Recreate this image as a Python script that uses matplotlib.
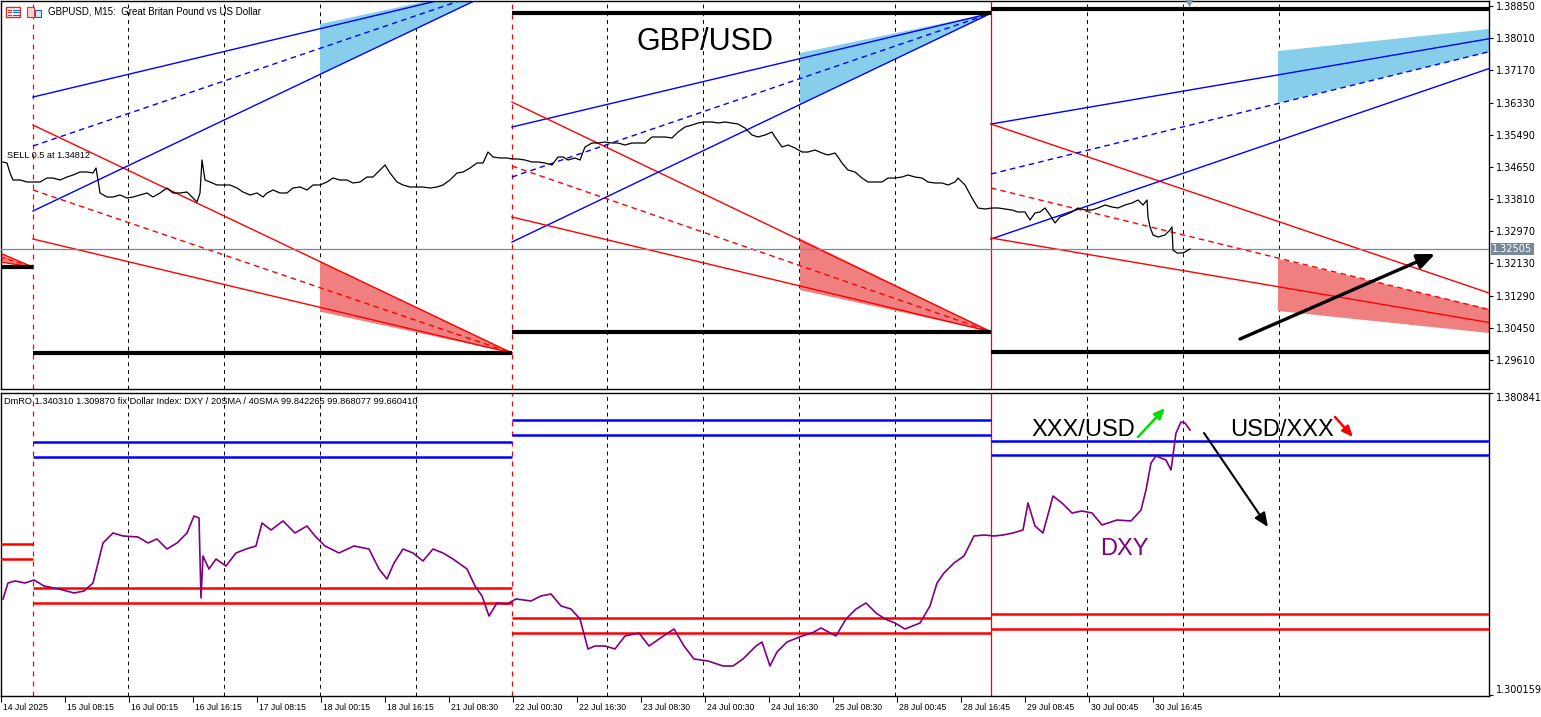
import matplotlib
matplotlib.use('Agg')
import matplotlib.pyplot as plt
import matplotlib.transforms as mtransforms
from matplotlib.patches import Rectangle

# ---------------- data ----------------
# GBPUSD M15 closes (x = bar position)
gbp_x = [3,7,10,13,20,27,33,40,47,53,60,67,73,80,87,93,96,98,100,107,113,120,127,133,140,147,153,160,167,173,
         180,187,193,197,200,202,205,210,217,223,230,237,243,250,257,263,267,273,280,287,293,300,307,313,320,327,
         333,340,347,353,360,367,373,380,385,390,397,403,410,417,423,430,437,443,450,457,463,470,477,483,488,493,
         500,507,512,518,525,532,538,545,552,558,563,568,575,580,585,592,598,605,612,618,625,632,638,645,652,658,
         665,672,678,685,692,698,705,712,718,725,732,738,745,752,758,765,772,775,782,788,795,802,808,815,822,828,
         835,838,842,848,855,862,868,875,882,888,895,902,908,915,922,928,935,942,948,955,958,965,972,978,985,992,
         998,1005,1012,1018,1025,1030,1035,1040,1045,1050,1055,1060,1065,1072,1078,1085,1092,1098,1105,1112,1118,
         1125,1132,1138,1143,1147,1148,1150,1153,1158,1165,1170,1172,1173,1177,1182,1185,1190]
gbp_close = [1.34777,1.34751,1.34490,1.34307,1.34307,1.34255,1.34255,1.34255,1.34359,1.34359,1.34307,1.34385,
             1.34438,1.34516,1.34516,1.34490,1.34620,1.34307,1.33968,1.33863,1.33863,1.33916,1.33837,1.33863,
             1.33916,1.33968,1.33863,1.33968,1.34098,1.33968,1.33968,1.33994,1.33837,1.33733,1.33968,1.34829,
             1.34307,1.34255,1.34177,1.34177,1.34177,1.34098,1.33994,1.33916,1.33968,1.33863,1.33968,1.34046,
             1.33968,1.33968,1.34098,1.34124,1.34046,1.34177,1.34177,1.34255,1.34359,1.34307,1.34307,1.34229,
             1.34255,1.34385,1.34385,1.34568,1.34699,1.34490,1.34255,1.34177,1.34124,1.34124,1.34124,1.34098,
             1.34124,1.34177,1.34307,1.34490,1.34516,1.34620,1.34751,1.34751,1.35038,1.34908,1.34882,1.34882,
             1.34856,1.34856,1.34829,1.34777,1.34777,1.34751,1.34699,1.34908,1.34908,1.34829,1.34882,1.34829,
             1.35169,1.35273,1.35273,1.35299,1.35273,1.35273,1.35221,1.35273,1.35273,1.35273,1.35430,1.35430,
             1.35430,1.35404,1.35560,1.35691,1.35743,1.35795,1.35822,1.35822,1.35795,1.35822,1.35795,1.35769,
             1.35665,1.35482,1.35430,1.35482,1.35560,1.35430,1.35169,1.35221,1.35143,1.35038,1.35038,1.35090,
             1.35012,1.34960,1.35012,1.34908,1.34751,1.34568,1.34516,1.34359,1.34255,1.34255,1.34255,1.34359,
             1.34359,1.34385,1.34438,1.34385,1.34359,1.34255,1.34229,1.34229,1.34177,1.34255,1.34359,1.34177,
             1.33837,1.33576,1.33550,1.33576,1.33576,1.33550,1.33524,1.33472,1.33472,1.33263,1.33446,1.33472,
             1.33576,1.33393,1.33185,1.33341,1.33393,1.33472,1.33576,1.33524,1.33524,1.33576,1.33654,1.33602,
             1.33576,1.33654,1.33707,1.33785,1.33654,1.33785,1.33341,1.33080,1.32871,1.32819,1.32871,1.33002,
             1.33080,1.32480,1.32401,1.32401,1.32427,1.32505]

# DXY (scaled to the lower panel)
dxy_x = [3,8,15,25,34,44,59,74,84,93,98,103,113,123,138,148,157,167,177,187,194,199,201,203,209,216,226,236,246,
         256,262,271,283,295,307,315,325,339,354,369,379,387,394,403,413,423,433,443,453,467,475,482,489,497,507,
         516,531,541,551,561,571,580,588,595,605,615,625,639,649,659,674,684,694,708,723,733,743,756,762,770,777,
         787,802,812,821,836,846,856,866,876,885,895,905,920,930,937,944,954,964,974,984,994,1003,1013,1023,1028,
         1035,1043,1053,1062,1072,1082,1092,1102,1117,1131,1141,1146,1151,1156,1166,1171,1176,1181,1185,1190]
dxy_val = [1.32581,1.33008,1.33062,1.33008,1.33088,1.32928,1.32848,1.32741,1.32794,1.33008,
           1.33542,1.34077,1.34344,1.34264,1.34237,1.34077,1.34184,1.33916,1.34077,1.34344,
           1.34798,1.34745,1.32607,1.33729,1.33382,1.33649,1.33462,1.33810,1.33916,1.33997,
           1.34611,1.34424,1.34665,1.34344,1.34531,1.34264,1.33997,1.33810,1.33997,1.33916,
           1.33382,1.33115,1.33542,1.33916,1.33810,1.33596,1.33916,1.33810,1.33649,1.33382,
           1.32928,1.32661,1.32126,1.32474,1.32447,1.32581,1.32527,1.32661,1.32714,1.32394,
           1.32313,1.32046,1.31245,1.31325,1.31325,1.31245,1.31592,1.31672,1.31325,1.31512,
           1.31779,1.31325,1.30978,1.30924,1.30791,1.30791,1.30978,1.31325,1.31432,1.30791,
           1.31165,1.31432,1.31592,1.31672,1.31806,1.31592,1.32046,1.32313,1.32474,1.32207,
           1.32046,1.31939,1.31779,1.31939,1.32394,1.33008,1.33275,1.33542,1.33729,1.34264,
           1.34290,1.34264,1.34290,1.34344,1.34424,1.35145,1.34531,1.34344,1.35332,1.35145,
           1.34878,1.34932,1.34878,1.34558,1.34691,1.34665,1.34958,1.35493,1.36214,1.36401,
           1.36294,1.36027,1.37015,1.37309,1.37283,1.37096]

# fan periods (start bar, apex bar) and their high / low levels
fan_x0 = [33, 512, 991]
fan_x1 = [512, 991, 1663]
fan_hi = [1.39451, 1.38660, 1.38772]
fan_lo = [1.29790, 1.30346, 1.29816]
blue_start = [[1.36474, 1.35195, 1.33498], [1.35691, 1.34385, 1.32688], [1.35769, 1.34464, 1.32766]]
red_start = [[1.35743, 1.34046, 1.32766], [1.36343, 1.34672, 1.33341], [1.35769, 1.34098, 1.32793]]
level_x1 = [512, 991, 1489]

# shaded zones
fill_x = [[320, 512], [800, 991], [1278, 1489]]
blue_fill_top = [[1.38380, 1.39451], [1.37623, 1.38660], [1.37675, 1.38250]]
blue_fill_bot = [[1.37075, 1.39451], [1.36284, 1.38660], [1.36318, 1.37649]]
red_fill_top = [[1.32192, 1.29790], [1.32785, 1.30346], [1.32245, 1.30939]]
red_fill_bot = [[1.30869, 1.29790], [1.31435, 1.30346], [1.30887, 1.30312]]

# previous period stub
prev_x = [0, 33]
prev_red_start = [1.32401, 1.32297, 1.32166]
prev_level = 1.32035

current_price = 1.32505
sell_price = 1.34812

price_ticks = [1.38850, 1.38010, 1.37170, 1.36330, 1.35490, 1.34650, 1.33810,
               1.32970, 1.32130, 1.31290, 1.30450, 1.29610]

# lower panel levels
seg_x0 = [0, 33, 512, 991]
seg_x1 = [33, 512, 991, 1489]
blue_levels = [None, [1.36762, 1.36363], [1.37365, 1.36975], [1.36807, 1.36417]]
red_levels = [[1.34050, 1.33649], [1.32874, 1.32474], [1.32068, 1.31667], [1.32172, 1.31782]]

# vertical separators
sep_dashed_red = [33, 512]
sep_solid_red = [991]
day_lines = [128, 224, 320, 416, 607, 703, 799, 895, 1087, 1183, 1279]

tick_x = [1, 65, 129, 193, 257, 321, 385, 449, 513, 577, 641, 705, 769, 833, 897, 961, 1025, 1089, 1153]
tick_labels = ["14 Jul 2025", "15 Jul 08:15", "16 Jul 00:15", "16 Jul 16:15", "17 Jul 08:15",
               "18 Jul 00:15", "18 Jul 16:15", "21 Jul 08:30", "22 Jul 00:30", "22 Jul 16:30",
               "23 Jul 08:30", "24 Jul 00:30", "24 Jul 16:30", "25 Jul 08:30", "28 Jul 00:45",
               "28 Jul 16:45", "29 Jul 08:45", "30 Jul 00:45", "30 Jul 16:45"]

# ---------------- figure ----------------
W, H = 1541, 717
fig = plt.figure(figsize=(W / 100, H / 100), dpi=100)
fig.patch.set_facecolor('white')


def rect(x0, y0, x1, y1):
    return [x0 / W, 1 - y1 / H, (x1 - x0) / W, (y1 - y0) / H]


ax1 = fig.add_axes(rect(1, 1, 1489, 389))
ax2 = fig.add_axes(rect(1, 393, 1489, 696))

BLUE = '#0000FF'
RED = '#FF0000'
SKY = '#87CEEB'
CORAL = '#F08080'
GRID_DASH = (0, (4, 4))
FAN_DASH = (0, (4, 3))

for ax in (ax1, ax2):
    ax.set_xlim(1, 1489)
    for x in day_lines:
        ax.axvline(x, color='black', lw=0.7, ls=GRID_DASH, zorder=1)
    for x in sep_dashed_red:
        ax.axvline(x, color=RED, lw=0.9, ls=GRID_DASH, zorder=1)
    for x in sep_solid_red:
        ax.axvline(x, color=RED, lw=0.9, zorder=1)
    for s in ax.spines.values():
        s.set_linewidth(1.0)
        s.set_color('black')

# ---- top panel ----
ax1.set_ylim(1.28850, 1.38981)

# shaded zones
for i in range(3):
    xa, xb = fill_x[i]
    ax1.fill([xa, xb, xb, xa], [blue_fill_top[i][0], blue_fill_top[i][1], blue_fill_bot[i][1], blue_fill_bot[i][0]],
             color=SKY, lw=0, zorder=2)
    ax1.fill([xa, xb, xb, xa], [red_fill_top[i][0], red_fill_top[i][1], red_fill_bot[i][1], red_fill_bot[i][0]],
             color=CORAL, lw=0, zorder=2)

# previous period stub
ax1.fill([prev_x[0], prev_x[1], prev_x[0]], [prev_red_start[0], prev_level, prev_red_start[2]],
         color=CORAL, lw=0, zorder=2)
for j, v in enumerate(prev_red_start):
    ax1.plot(prev_x, [v, prev_level], color=RED, lw=0.9, ls=FAN_DASH if j == 1 else '-', zorder=3)
ax1.plot(prev_x, [prev_level, prev_level], color='black', lw=3, solid_capstyle='butt', zorder=4)

# fans
for i in range(3):
    x0, x1 = fan_x0[i], fan_x1[i]
    for j in range(3):
        ls = FAN_DASH if j == 1 else '-'
        ax1.plot([x0, x1], [blue_start[i][j], fan_hi[i]], color=BLUE, lw=1.0, ls=ls, zorder=3)
        ax1.plot([x0, x1], [red_start[i][j], fan_lo[i]], color=RED, lw=1.0, ls=ls, zorder=3)
    ax1.plot([x0, level_x1[i]], [fan_hi[i], fan_hi[i]], color='black', lw=3, solid_capstyle='butt', zorder=4)
    ax1.plot([x0, level_x1[i]], [fan_lo[i], fan_lo[i]], color='black', lw=3, solid_capstyle='butt', zorder=4)

ax1.axhline(current_price, color='#778899', lw=0.9, zorder=3)
ax1.plot(gbp_x, gbp_close, color='black', lw=0.9, zorder=5)

ax1.text(7, 1.34882, "SELL 0.5 at %.5f" % sell_price, fontsize=6.6, family='Liberation Sans',
         ha='left', va='baseline', zorder=6)
ax1.text(705, 1.37702, "GBP/USD", fontsize=22, family='Liberation Sans', ha='center', va='baseline', zorder=6)

ax1.annotate('', xy=(1435, 1.32375), xytext=(1240, 1.30155),
             arrowprops=dict(arrowstyle='-|>,head_length=0.7,head_width=0.3', lw=2.4, color='black',
                             mutation_scale=15, shrinkA=0, shrinkB=0), zorder=7)
ax1.plot([1189], [1.38935], marker='v', color='#8a99aa', ms=6, mec='none', clip_on=False, zorder=7)

ax1.yaxis.tick_right()
ax1.set_yticks(price_ticks)
ax1.set_yticklabels(["%.5f" % v for v in price_ticks])
ax1.tick_params(axis='y', direction='out', length=3, width=0.8, labelsize=7, pad=2)
ax1.tick_params(axis='x', bottom=False, labelbottom=False)

trans = mtransforms.blended_transform_factory(ax1.transAxes, ax1.transData)
ax1.text(1.0 + 3 / 1488, current_price, "%.5f" % current_price, transform=trans, fontsize=7,
         color='white', ha='left', va='center',
         bbox=dict(boxstyle='square,pad=0.15', fc='#778899', ec='none'), zorder=8, clip_on=False)

# ---- bottom panel ----
ax2.set_ylim(1.29989, 1.380841)
for i in range(4):
    if blue_levels[i] is not None:
        for v in blue_levels[i]:
            ax2.plot([seg_x0[i], seg_x1[i]], [v, v], color=BLUE, lw=1.8, solid_capstyle='butt', zorder=3)
    for v in red_levels[i]:
        ax2.plot([seg_x0[i], seg_x1[i]], [v, v], color=RED, lw=1.8, solid_capstyle='butt', zorder=3)

ax2.plot(dxy_x, dxy_val, color='#800080', lw=1.2, zorder=5)

ax2.text(1031, 1.36935, "XXX/USD", fontsize=17, family='Liberation Sans', ha='left', va='baseline', zorder=6)
ax2.text(1230, 1.36935, "USD/XXX", fontsize=17, family='Liberation Sans', ha='left', va='baseline', zorder=6)
ax2.text(1100, 1.33756, "DXY", fontsize=17, family='Liberation Sans', color='#800080', ha='left',
         va='baseline', zorder=6)

ax2.annotate('', xy=(1268, 1.34504), xytext=(1204, 1.37015),
             arrowprops=dict(arrowstyle='-|>,head_length=0.7,head_width=0.3', lw=1.5, color='black',
                             mutation_scale=12, shrinkA=0, shrinkB=0), zorder=7)
ax2.annotate('', xy=(1165, 1.37683), xytext=(1138, 1.36909),
             arrowprops=dict(arrowstyle='-|>,head_length=0.7,head_width=0.3', lw=1.8, color='#00DD00',
                             mutation_scale=9, shrinkA=0, shrinkB=0), zorder=7)
ax2.annotate('', xy=(1353, 1.36909), xytext=(1335, 1.37443),
             arrowprops=dict(arrowstyle='-|>,head_length=0.7,head_width=0.3', lw=1.8, color=RED,
                             mutation_scale=9, shrinkA=0, shrinkB=0), zorder=7)

ax2.yaxis.tick_right()
ax2.set_yticks([1.380841, 1.300159])
ax2.set_yticklabels(["1.380841", "1.300159"])
ax2.tick_params(axis='y', direction='out', length=3, width=0.8, labelsize=7, pad=2)
ylabs = ax2.get_yticklabels()
ylabs[0].set_va('top')
ylabs[1].set_va('bottom')

ax2.set_xticks(tick_x)
ax2.set_xticklabels(tick_labels, fontsize=6.2, family='Liberation Sans')
ax2.tick_params(axis='x', direction='out', length=4, width=0.8, pad=1)
offset = mtransforms.ScaledTranslation(2 / 100, 0, fig.dpi_scale_trans)
for lab in ax2.get_xticklabels():
    lab.set_ha('left')
    lab.set_transform(lab.get_transform() + offset)

# ---- header texts and icons ----
fig.text(48 / W, 1 - 12 / H, "GBPUSD, M15:  Great Britan Pound vs US Dollar", fontsize=7,
         family='Liberation Sans', ha='left', va='center')
fig.text(4 / W, 1 - 401 / H,
         "DmRO 1.340310 1.309870 fix Dollar Index: DXY / 20SMA / 40SMA 99.842265 99.868077 99.660410",
         fontsize=6.7, family='Liberation Sans', ha='left', va='center')

fig.add_artist(Rectangle((6 / W, 1 - 17 / H), 14 / W, 10 / H, transform=fig.transFigure,
                         fill=False, edgecolor='#d03030', lw=1))
for yy in (9.5, 12, 14.5):
    fig.add_artist(plt.Line2D([8 / W, 11 / W], [1 - yy / H, 1 - yy / H], transform=fig.transFigure,
                              color='#d03030', lw=0.8))
    fig.add_artist(plt.Line2D([12.5 / W, 18.5 / W], [1 - yy / H, 1 - yy / H], transform=fig.transFigure,
                              color='#2060c0', lw=0.8))
fig.add_artist(Rectangle((27 / W, 1 - 17 / H), 7 / W, 10 / H, transform=fig.transFigure,
                         facecolor='#f8d0d0', edgecolor='#c04040', lw=0.8))
fig.add_artist(Rectangle((35 / W, 1 - 17 / H), 6 / W, 7 / H, transform=fig.transFigure,
                         facecolor='#d8e8f8', edgecolor='#2060c0', lw=0.8))

fig.savefig('out.png', dpi=100, facecolor='white')
